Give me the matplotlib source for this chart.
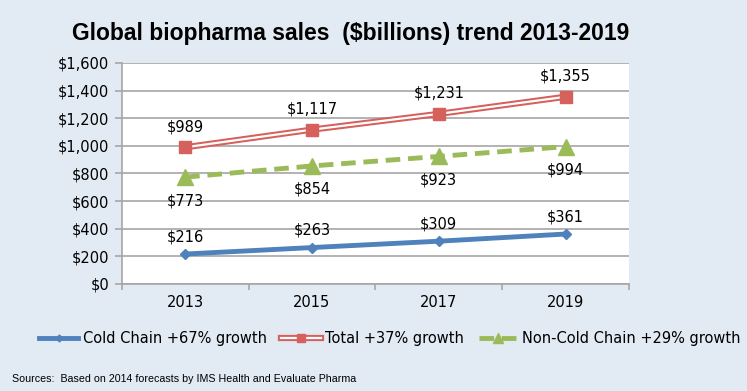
import matplotlib.pyplot as plt
import numpy as np

years = ["2013", "2015", "2017", "2019"]
cold_chain = [216, 263, 309, 361]
total = [989, 1117, 1231, 1355]
non_cold = [773, 854, 923, 994]
yticks = [0, 200, 400, 600, 800, 1000, 1200, 1400, 1600]

bg = "#e2eaf3"
blue = "#4f81bd"
red = "#d6605b"
green = "#9bbb59"
grid = "#a6a6a6"
fs = 10.5

fig = plt.figure(figsize=(7.47, 3.91), dpi=100, facecolor=bg)
ax = fig.add_axes([0.163, 0.274, 0.679, 0.565])
ax.set_facecolor("white")

x = np.arange(len(years))

# cold chain
h_cold, = ax.plot(x, cold_chain, color=blue, lw=3.5, marker="D", ms=5, zorder=4)
# total: double red line with white core
h_tot1, = ax.plot(x, total, color=red, lw=4.5, zorder=4)
h_tot2, = ax.plot(x, total, color="white", lw=1.6, zorder=5)
h_tot3, = ax.plot(x, total, color=red, lw=0, marker="s", ms=8, zorder=6)
# non cold chain
h_non, = ax.plot(x, non_cold, color=green, lw=3.5, ls=(0, (3, 1.6)), marker="^", ms=11, zorder=4)

for i in range(len(x)):
    ax.annotate("$%s" % format(total[i], ","), (x[i], total[i]), xytext=(0, 13),
                textcoords="offset pixels", ha="center", va="bottom", fontsize=fs)
    ax.annotate("$%s" % format(non_cold[i], ","), (x[i], non_cold[i]), xytext=(0, -16),
                textcoords="offset pixels", ha="center", va="top", fontsize=fs)
    ax.annotate("$%s" % format(cold_chain[i], ","), (x[i], cold_chain[i]), xytext=(0, 10),
                textcoords="offset pixels", ha="center", va="bottom", fontsize=fs)

ax.set_xlim(-0.5, 3.5)
ax.set_ylim(0, 1600)
ax.set_yticks(yticks)
ax.set_yticklabels(["$%s" % format(v, ",") for v in yticks], fontsize=fs)
ax.set_xticks(x)
ax.set_xticklabels(years, fontsize=fs)
ax.set_xticks([-0.5, 0.5, 1.5, 2.5, 3.5], minor=True)
ax.yaxis.grid(True, color=grid, lw=1.2)
ax.set_axisbelow(True)
for s in ["top", "right"]:
    ax.spines[s].set_visible(False)
for s in ["left", "bottom"]:
    ax.spines[s].set_color(grid)
    ax.spines[s].set_linewidth(1.2)
ax.tick_params(axis="y", color=grid, length=5, width=1.2, pad=4)
ax.tick_params(axis="x", which="major", length=0, pad=8)
ax.tick_params(axis="x", which="minor", color=grid, length=4, width=1.2)

fig.text(0.469, 0.915, "Global biopharma sales  ($billions) trend 2013-2019",
         ha="center", va="center", fontsize=16.5, fontweight="bold", family="Liberation Sans")

fig.legend([h_cold, (h_tot1, h_tot2, h_tot3), h_non],
           ["Cold Chain +67% growth", "Total +37% growth", "Non-Cold Chain +29% growth"],
           loc="center", bbox_to_anchor=(0.522, 0.135), ncol=3, frameon=False,
           fontsize=fs, handlelength=2.7, columnspacing=1.0, handletextpad=0.3,
           markerscale=0.7)

fig.text(0.016, 0.03, "Sources:  Based on 2014 forecasts by IMS Health and Evaluate Pharma",
         ha="left", va="center", fontsize=7.7, family="Liberation Sans")

fig.savefig("out.png", dpi=100, facecolor=bg)
